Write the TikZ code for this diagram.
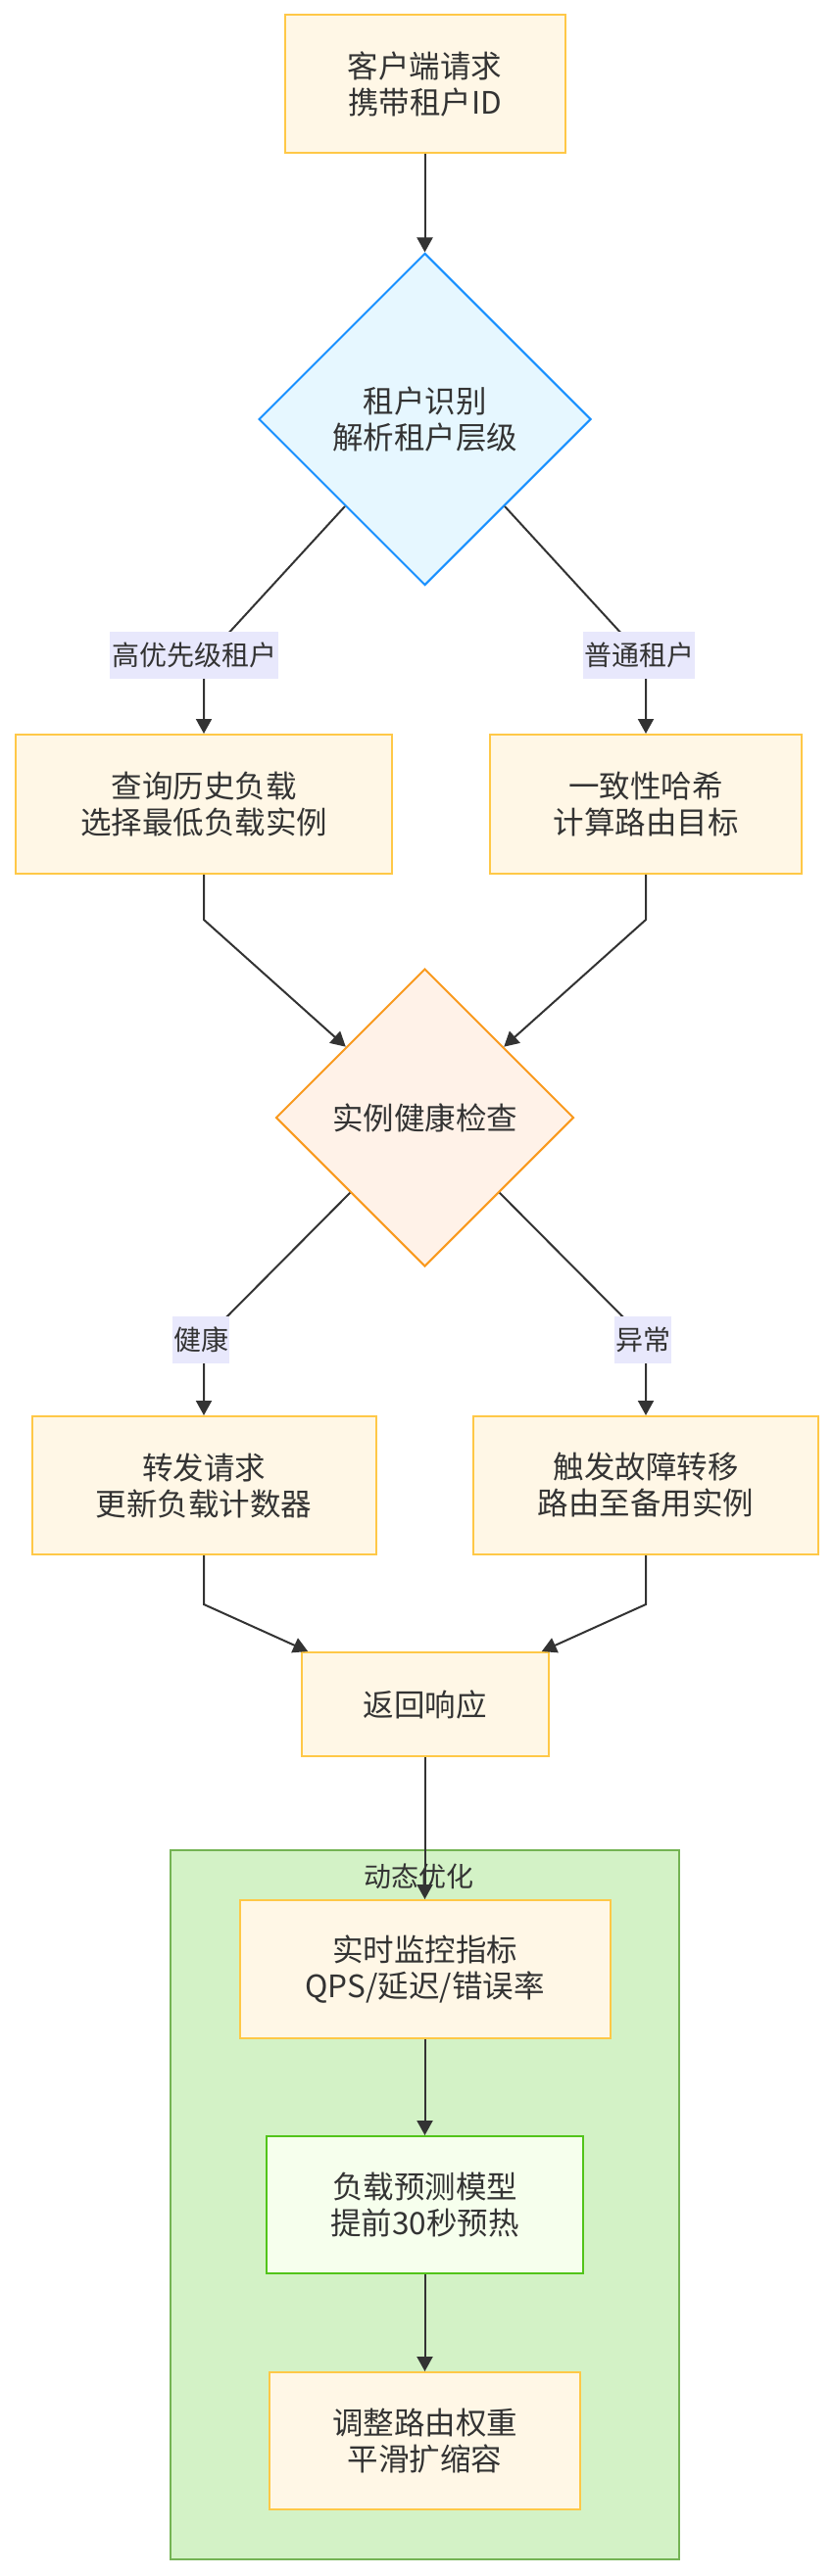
\documentclass[tikz,border=0pt]{standalone}
\usepackage{fontspec}
\newfontfamily\cjk{Noto Sans CJK SC}
\usetikzlibrary{shapes.geometric,arrows.meta}
\definecolor{txt}{HTML}{333333}
\definecolor{boxfill}{HTML}{FFF7E6}
\definecolor{boxline}{HTML}{FFC847}
\definecolor{lblfill}{HTML}{E8E8FC}
\definecolor{dAfill}{HTML}{E6F7FF}
\definecolor{dAline}{HTML}{1890FF}
\definecolor{dBfill}{HTML}{FFF2E8}
\definecolor{dBline}{HTML}{F99A1F}
\definecolor{gfill}{HTML}{F6FFED}
\definecolor{gline}{HTML}{52C41A}
\definecolor{sgfill}{HTML}{D3F2C6}
\definecolor{sgline}{HTML}{74B354}
\begin{document}
\begin{tikzpicture}[x=1pt,y=-1pt,
  proc/.style={rectangle, draw=boxline, fill=boxfill, line width=2pt, inner sep=0pt,
    font=\cjk\fontsize{31.5}{37}\selectfont, text=txt, align=center},
  decision/.style={diamond, line width=2pt, inner sep=0pt, aspect=1,
    font=\cjk\fontsize{31.5}{37}\selectfont, text=txt, align=center},
  lbl/.style={rectangle, fill=lblfill, inner sep=0pt, minimum height=48pt,
    font=\cjk\fontsize{28}{34}\selectfont, text=txt},
  flow/.style={draw=txt, line width=2pt, -{Triangle[width=16pt,length=15pt]}},
  group/.style={rectangle, draw=sgline, fill=sgfill, line width=2pt, inner sep=0pt},
  grouptitle/.style={font=\cjk\fontsize{28}{34}\selectfont, text=txt, inner sep=0pt}
]
\fill[white] (0,0) rectangle (850,2630);
\useasboundingbox (0,0) rectangle (850,2630);

% subgraph
\node[group, minimum width=519pt, minimum height=724pt] (sg) at (433.5,2251) {};
\node[grouptitle] (sgt) at (427,1915.5) {动态优化};

% nodes
\node[proc, minimum width=286pt, minimum height=141pt] (start) at (433.5,86) {客户端请求\\携带租户ID};
\node[decision, draw=dAline, fill=dAfill, minimum width=339pt, minimum height=339pt] (d1) at (433.5,428) {租户识别\\解析租户层级};
\node[proc, minimum width=384pt, minimum height=142pt] (hist) at (208,821) {查询历史负载\\选择最低负载实例};
\node[proc, minimum width=318pt, minimum height=142pt] (hash) at (659,821) {一致性哈希\\计算路由目标};
\node[decision, draw=dBline, fill=dBfill, minimum width=304pt, minimum height=304pt] (d2) at (433.5,1141) {实例健康检查};
\node[proc, minimum width=351pt, minimum height=141pt] (fwd) at (208,1516.5) {转发请求\\更新负载计数器};
\node[proc, minimum width=352pt, minimum height=141pt] (fail) at (659,1516.5) {触发故障转移\\路由至备用实例};
\node[proc, minimum width=252pt, minimum height=106pt] (ret) at (433.5,1740) {返回响应};
\node[proc, minimum width=378pt, minimum height=141pt] (mon) at (433.5,2010.5) {实时监控指标\\QPS/延迟/错误率};
\node[proc, draw=gline, fill=gfill, minimum width=323pt, minimum height=140pt] (model) at (433.5,2251) {负载预测模型\\提前30秒预热};
\node[proc, minimum width=317pt, minimum height=140pt] (adj) at (433.5,2492) {调整路由权重\\平滑扩缩容};

% bend points
\coordinate (b1) at (208,674);
\coordinate (b2) at (659,674);
\coordinate (b3) at (208,939);
\coordinate (b4) at (659,939);
\coordinate (b5) at (208,1368);
\coordinate (b6) at (659,1368);
\coordinate (b7) at (208,1638);
\coordinate (b8) at (659,1638);

% edges
\draw[flow] (start) -- (d1);
\draw[flow] (d1) -- (b1) -- (hist);
\draw[flow] (d1) -- (b2) -- (hash);
\draw[flow] (hist) -- (b3) -- (d2);
\draw[flow] (hash) -- (b4) -- (d2);
\draw[flow] (d2) -- (b5) -- (fwd);
\draw[flow] (d2) -- (b6) -- (fail);
\draw[flow] (fwd) -- (b7) -- (ret);
\draw[flow] (fail) -- (b8) -- (ret);
\draw[flow] (ret) -- (mon);
\draw[flow] (mon) -- (model);
\draw[flow] (model) -- (adj);

% edge labels
\node[lbl, minimum width=172pt] (l1) at (198,669) {高优先级租户};
\node[lbl, minimum width=114pt] (l2) at (652,669) {普通租户};
\node[lbl, minimum width=58pt] (l3) at (205,1367.5) {健康};
\node[lbl, minimum width=58pt] (l4) at (656,1367.5) {异常};
\end{tikzpicture}
\end{document}
